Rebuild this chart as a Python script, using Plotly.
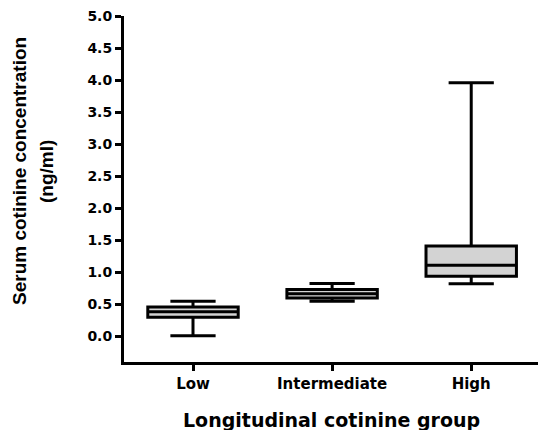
import plotly.graph_objects as go

categories = ["Low", "Intermediate", "High"]
lower_whisker = [0.01, 0.55, 0.82]
q1_values = [0.30, 0.60, 0.94]
median_values = [0.385, 0.665, 1.11]
q3_values = [0.46, 0.73, 1.41]
upper_whisker = [0.55, 0.825, 3.96]
y_ticks = [0.0, 0.5, 1.0, 1.5, 2.0, 2.5, 3.0, 3.5, 4.0, 4.5, 5.0]

fig = go.Figure()
fig.add_trace(go.Box(
    x=categories,
    q1=q1_values, median=median_values, q3=q3_values,
    lowerfence=lower_whisker, upperfence=upper_whisker,
    width=0.65, whiskerwidth=0.5,
    fillcolor="#d3d3d3",
    line=dict(color="black", width=3),
    boxpoints=False, showlegend=False, hoverinfo="skip",
))

W, H = 538, 430
L, R, T, B = 124, 0, 16, 68
PW, PH = W - L - R, H - T - B


def px_x(px):
    return (px - L) / PW


def px_y(py):
    return (H - B - py) / PH


TICKFONT = "DejaVu Sans"
YTITLE_FONT = dict(size=19, family="Liberation Sans Narrow, Liberation Sans, Arial")
fig.update_layout(
    width=W, height=H,
    margin=dict(l=L, r=R, t=T, b=B, autoexpand=False),
    paper_bgcolor="white", plot_bgcolor="white",
    font=dict(family="Liberation Sans, Arial", color="black"),
    xaxis=dict(
        automargin=False,
        range=[-0.496, 2.48], showgrid=False, zeroline=False,
        showline=True, linecolor="black", linewidth=3,
        tickvals=categories, ticktext=[f"<b>{c}</b>" for c in categories],
        ticks="outside", ticklen=6, tickwidth=3, tickcolor="black",
        tickfont=dict(size=15, family=TICKFONT),
    ),
    yaxis=dict(
        automargin=False,
        range=[-0.4, 5.0], showgrid=False, zeroline=False,
        showline=True, linecolor="black", linewidth=3,
        tickvals=y_ticks, ticktext=[f"<b>{v:.1f}</b>" for v in y_ticks],
        ticks="outside", ticklen=6, tickwidth=3, tickcolor="black",
        tickfont=dict(size=14, family=TICKFONT),
    ),
    annotations=[
        dict(text="<b>Serum cotinine concentration</b>",
             textangle=-90, xref="paper", yref="paper",
             x=px_x(19), y=px_y(171), xanchor="center", yanchor="middle",
             showarrow=False, font=YTITLE_FONT),
        dict(text="<b>(ng/ml)</b>",
             textangle=-90, xref="paper", yref="paper",
             x=px_x(46), y=px_y(172), xanchor="center", yanchor="middle",
             showarrow=False, font=YTITLE_FONT),
        dict(text="<b>Longitudinal cotinine group</b>",
             xref="paper", yref="paper",
             x=px_x(331), y=px_y(420), xanchor="center", yanchor="middle",
             showarrow=False,
             font=dict(size=19, family=TICKFONT)),
    ],
)

fig.write_html("out.html", config={"displayModeBar": False},
               post_script="document.body.style.margin='0';document.body.style.overflow='hidden';")
